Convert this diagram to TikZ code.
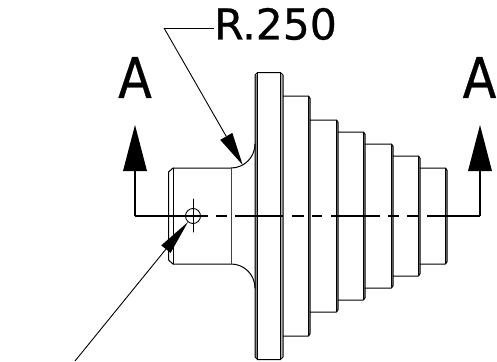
\documentclass[tikz,border=0pt]{standalone}
\usepackage{fontspec}
\setmainfont{DejaVu Sans}[FakeBold=0.6]
\usetikzlibrary{arrows.meta}
\tikzset{
  edge/.style={line width=1pt,line cap=round,line join=round,black},
  cut/.style={line width=1.1pt,black,-{Triangle[length=46pt,width=24pt,line width=0pt]}},
  lead/.style={line width=0.9pt,black},
  lab/.style={inner sep=0pt,xscale=0.88,font=\fontsize{56}{56}\selectfont,black},
  dim/.style={inner sep=0pt,font=\fontsize{42.5}{43}\selectfont,black},
}
\newcommand{\stepshape}[4]{% xprev, xi, xo, ytop
  \fill[black!45] (#2,#4) rectangle (#3,432-#4);
  \draw[edge] (#1,#4) -- (#2,#4) -- (#3,#4+2.2) -- (#3,432-#4-2.2) -- (#2,432-#4) -- (#1,432-#4);
  \draw[edge] (#2,#4) -- (#2,432-#4);
}
\begin{document}
\begin{tikzpicture}[x=1pt,y=-1pt]
\useasboundingbox (0,0) rectangle (497,361);
% steps
\stepshape{283}{308}{310}{96}
\stepshape{310}{336}{338}{120}
\stepshape{338}{363}{365}{132}
\stepshape{365}{391}{393}{144}
\stepshape{393}{418}{420}{156}
\stepshape{420}{445}{447}{168}
% flange
\fill[black!45] (255,74.5) rectangle (257.5,357.5);
\fill[black!30] (280.5,74.5) rectangle (283,357.5);
\draw[edge] (255,75) -- (257.5,72.5) -- (280.5,72.5) -- (283,75) -- (283,357) -- (280.5,359.5) -- (257.5,359.5) -- (255,357) -- cycle;
\draw[edge] (257.5,72.5) -- (257.5,359.5);
\draw[edge] (280.5,72.5) -- (280.5,359.5);
% hub
\draw[edge] (255,144) .. controls (255,157.25) and (244.25,168) .. (231,168) -- (173,168) -- (168.5,172) -- (168.5,260) -- (173,264) -- (231,264) .. controls (244.25,264) and (255,274.75) .. (255,288);
\draw[edge] (173,168) -- (173,264);
\draw[edge,black!75] (231,168) -- (231,264);
% hole
\node[circle,draw,line width=0.9pt,minimum size=15pt,inner sep=0pt] (hole) at (193,216) {};
\coordinate (holeT) at (193,199);
\coordinate (holeB) at (193,232);
\draw[edge] (holeT) -- (holeB);
% section line
\coordinate (L) at (135,216);
\coordinate (R) at (480,216);
\coordinate (LT) at (135,125);
\coordinate (RT) at (480,125);
\draw[line width=1.1pt] (L) -- (208,216);
\draw[line width=1.1pt] (216,216) -- (227,216) (235,216) -- (283,216) (292,216) -- (304,216) (312,216) -- (322,216) (331,216) -- (380,216) (388,216) -- (399,216) (407,216) -- (418,216) (427,216) -- (R);
\draw[cut] (L) -- (LT);
\draw[cut] (R) -- (RT);
\node[lab] (A1) at (135,77.5) {A};
\node[lab] (A2) at (479.5,77.5) {A};
\node[dim,anchor=west] (Rtxt) at (214,24) {R.250};
% leaders
\coordinate (k) at (164,28);
\coordinate (tip1) at (242.7,165);
\coordinate (free) at (75,361);
\coordinate (tip2) at (188,222);
\draw[lead] (Rtxt.west |- k) -- (k);
\draw[lead,-{Triangle[length=33pt,width=14pt,line width=0pt]}] (k) -- (tip1);
\draw[lead,-{Triangle[length=35pt,width=12pt,line width=0pt]}] (free) -- (tip2);
\end{tikzpicture}
\end{document}
